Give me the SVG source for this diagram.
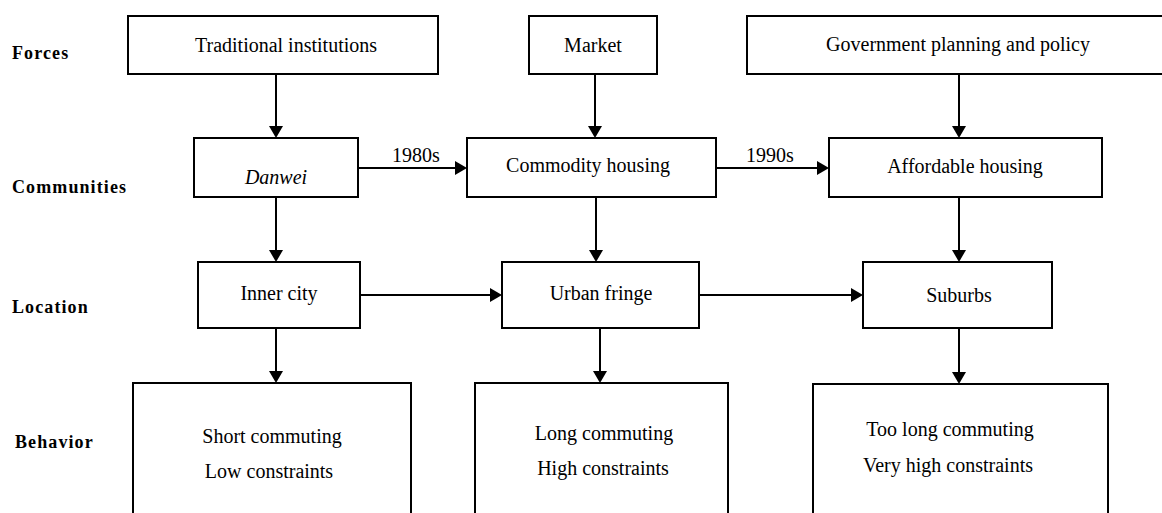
<svg xmlns="http://www.w3.org/2000/svg" width="1162" height="513" viewBox="0 0 1162 513">
<style>
.box{fill:#fff;stroke:#000;stroke-width:2}
.t{font-family:"Liberation Serif","Times New Roman",serif;font-size:20px;fill:#000;text-anchor:middle}
.lab{font-family:"Liberation Serif","Times New Roman",serif;font-size:18px;font-weight:bold;letter-spacing:1.1px;fill:#000}
.yr{font-family:"Liberation Serif","Times New Roman",serif;font-size:20px;fill:#000}
.c line{stroke:#000;stroke-width:2;marker-end:url(#ah)}
</style>
<defs>
<marker id="ah" viewBox="0 0 12 14" refX="2" refY="7" markerWidth="12" markerHeight="14" markerUnits="userSpaceOnUse" orient="auto">
<path d="M0,0 L12,7 L0,14 z" fill="#000"/>
</marker>
</defs>
<rect width="1162" height="513" fill="#fff"/>
<g id="labels">
<text class="lab" x="12" y="59">Forces</text>
<text class="lab" x="12" y="193">Communities</text>
<text class="lab" x="12" y="313">Location</text>
<text class="lab" x="15" y="448">Behavior</text>
</g>
<g class="c" id="connectors">
<line x1="276" y1="74" x2="276" y2="128"/>
<line x1="595" y1="74" x2="595" y2="128"/>
<line x1="959" y1="74" x2="959" y2="128"/>
<line x1="358" y1="168" x2="457" y2="168"/>
<line x1="716" y1="168" x2="819" y2="168"/>
<line x1="276" y1="197" x2="276" y2="252"/>
<line x1="596" y1="197" x2="596" y2="252"/>
<line x1="959" y1="197" x2="959" y2="252"/>
<line x1="360" y1="295" x2="492" y2="295"/>
<line x1="699" y1="295" x2="853" y2="295"/>
<line x1="276" y1="328" x2="276" y2="373"/>
<line x1="600" y1="328" x2="600" y2="373"/>
<line x1="959" y1="328" x2="959" y2="374"/>
<text class="yr" x="392" y="162">1980s</text>
<text class="yr" x="746" y="162">1990s</text>
</g>
<g id="traditional"><rect class="box" x="128" y="16" width="310" height="58"/><text class="t" x="286" y="52">Traditional institutions</text></g>
<g id="market"><rect class="box" x="529" y="16" width="128" height="58"/><text class="t" x="593" y="52">Market</text></g>
<g id="government"><rect class="box" x="747" y="16" width="425" height="58"/><text class="t" x="958" y="51">Government planning and policy</text></g>
<g id="danwei"><rect class="box" x="194" y="138" width="164" height="59"/><text class="t" x="276" y="184" font-style="italic">Danwei</text></g>
<g id="commodity"><rect class="box" x="467" y="138" width="249" height="59"/><text class="t" x="588" y="172">Commodity housing</text></g>
<g id="affordable"><rect class="box" x="829" y="138" width="273" height="59"/><text class="t" x="965" y="173">Affordable housing</text></g>
<g id="inner"><rect class="box" x="198" y="262" width="162" height="66"/><text class="t" x="279" y="300">Inner city</text></g>
<g id="fringe"><rect class="box" x="502" y="262" width="197" height="66"/><text class="t" x="601" y="300">Urban fringe</text></g>
<g id="suburbs"><rect class="box" x="863" y="262" width="189" height="66"/><text class="t" x="959" y="302">Suburbs</text></g>
<g id="behavior1"><rect class="box" x="133" y="383" width="278" height="140"/><text class="t" x="272" y="443">Short commuting</text><text class="t" x="269" y="478">Low constraints</text></g>
<g id="behavior2"><rect class="box" x="475" y="383" width="253" height="140"/><text class="t" x="604" y="440">Long commuting</text><text class="t" x="603" y="475">High constraints</text></g>
<g id="behavior3"><rect class="box" x="813" y="384" width="295" height="140"/><text class="t" x="950" y="436">Too long commuting</text><text class="t" x="948" y="472">Very high constraints</text></g>
</svg>
